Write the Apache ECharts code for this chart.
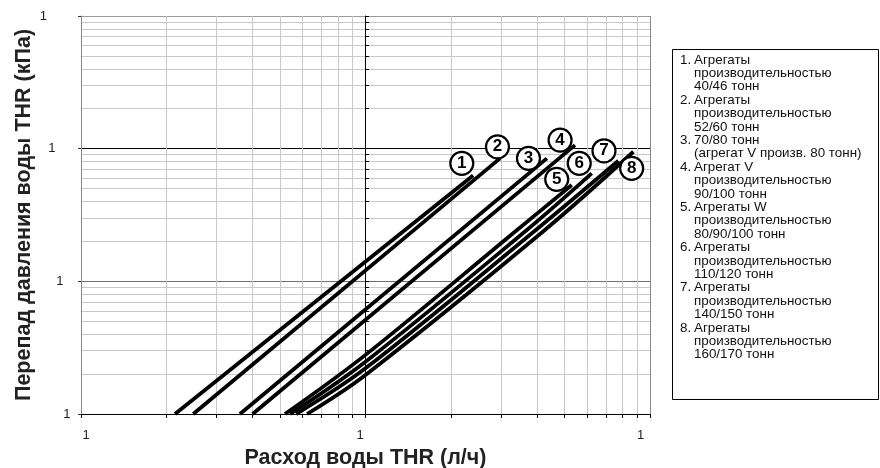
<!DOCTYPE html>
<html><head><meta charset="utf-8">
<script src="https://cdn.jsdelivr.net/npm/echarts@6/dist/echarts.min.js"></script>
<style>html,body{margin:0;padding:0;background:#fff}#c{width:880px;height:468px}</style>
</head><body><div id="c"></div><script>
// ---- data ----
const xTickValues = [1,2,3,4,5,6,7,8,9,10,20,30,40,50,60,70,80,90,100];
const yTickValues = [1,2,3,4,5,6,7,8,9,10,20,30,40,50,60,70,80,90,100,200,300,400,500,600,700,800,900,1000];
const xLabelValues = [1,10,100];
const yLabelValues = [1,10,100,1000];
const tickLabelText = '1';
const xTitle = 'Расход воды THR (л/ч)';
const yTitle = 'Перепад давления воды THR (кПа)';

const curve1 = [[2.14,1],[23.9,62.8]];
const curve2 = [[2.48,1],[29.7,84.5]];
const curve3 = [[3.62,1],[43.4,84.5]];
const curve4 = [[4.01,1],[54.5,106.4]];
const curve5 = [[5.21,1],[10,2.79],[34.1,24.4],[53.1,53.2]];
const curve6 = [[5.43,1],[10,2.48],[36.9,24.4],[62.4,65.2]];
const curve7 = [[5.70,1],[10,2.21],[39.7,24.4],[77.4,81.1]];
const curve8 = [[6.23,1],[10,1.97],[42.7,24.4],[87.4,94.8]];
const curves = [curve1,curve2,curve3,curve4,curve5,curve6,curve7,curve8];

const markerPos = [[21.8,77.5],[29.1,103.3],[37.4,84.5],[48.3,116.1],[47.0,58.7],[56.4,77.5],[68.9,96.4],[86.2,71.1]];
const markerText = ['1','2','3','4','5','6','7','8'];

const legendEntries = [
  ['1.', 'Агрегаты', 'производительностью', '40/46 тонн'],
  ['2.', 'Агрегаты', 'производительностью', '52/60 тонн'],
  ['3.', '70/80 тонн', '(агрегат V произв. 80 тонн)'],
  ['4.', 'Агрегат V', 'производительностью', '90/100 тонн'],
  ['5.', 'Агрегаты W', 'производительностью', '80/90/100 тонн'],
  ['6.', 'Агрегаты', 'производительностью', '110/120 тонн'],
  ['7.', 'Агрегаты', 'производительностью', '140/150 тонн'],
  ['8.', 'Агрегаты', 'производительностью', '160/170 тонн']
];

// ---- styling ----
const FONT = '"Liberation Sans", Arial, Helvetica, sans-serif';
const MINOR = '#c8c8c8';
const xSplitColors = xTickValues.map(v => v === 10 ? '#000' : ([1,100].includes(v) ? '#8a8a8a' : MINOR));
const ySplitColors = yTickValues.map(v => v === 100 ? '#000' : (v === 10 ? '#6e6e6e' : (v === 1000 ? '#9a9a9a' : (v === 1 ? '#000' : MINOR))));

const chart = echarts.init(document.getElementById('c'), null, {renderer: 'canvas'});

const lineSeries = curves.map((c, i) => ({
  type: 'line', name: 'curve' + (i + 1), data: c, xAxisIndex: 0, yAxisIndex: 0,
  showSymbol: false, smooth: c.length > 2 ? 0.35 : false,
  lineStyle: {color: '#000', width: 3.8}, z: 5, silent: true
}));

const LEG_FONT = '13.4px ' + FONT;
const legendGraphics = [{
  type: 'rect', shape: {x: 672.5, y: 49.5, width: 206, height: 350},
  style: {fill: '#fff', stroke: '#000', lineWidth: 1}, z: 1
}];
let row = 0;
legendEntries.forEach(e => {
  legendGraphics.push({type: 'text', x: 680, y: 60 + row * 13.4, z: 2,
    style: {text: e[0], font: LEG_FONT, fill: '#111', verticalAlign: 'middle', align: 'left'}});
  for (let k = 1; k < e.length; k++) {
    legendGraphics.push({type: 'text', x: 694, y: 60 + row * 13.4, z: 2,
      style: {text: e[k], font: LEG_FONT, fill: '#111', verticalAlign: 'middle', align: 'left'}});
    row++;
  }
});

const xRich = {
  a: {padding: [0, 0, 0, 10], fontSize: 13, fontFamily: FONT, color: '#222'},
  b: {padding: [0, 11, 0, 0], fontSize: 13, fontFamily: FONT, color: '#222'},
  c: {padding: [0, 19, 0, 0], fontSize: 13, fontFamily: FONT, color: '#222'}
};
const yRich = {
  a: {padding: [0, 0, 0, 0], fontSize: 13, fontFamily: FONT, color: '#222'},
  b: {padding: [0, 7, 0, 0], fontSize: 13, fontFamily: FONT, color: '#222'},
  c: {padding: [0, 15, 0, 0], fontSize: 13, fontFamily: FONT, color: '#222'},
  d: {padding: [0, 23.5, 0, 0], fontSize: 13, fontFamily: FONT, color: '#222'}
};
const keyOf = v => 'abcd'[Math.round(Math.log10(v))];

chart.setOption({
  animation: false,
  backgroundColor: '#fff',
  textStyle: {fontFamily: FONT},
  grid: [
    {left: 81, right: 230, top: 16, bottom: 54, show: false, containLabel: false, outerBoundsMode: 'none'},
    {left: 365, right: 230, top: 16, bottom: 54, show: false, containLabel: false, outerBoundsMode: 'none'}
  ],
  xAxis: [
    {type: 'log', logBase: 10, min: 1, max: 100, gridIndex: 0, position: 'bottom',
     name: xTitle, nameLocation: 'middle', nameGap: 33, nameMoveOverlap: false,
     nameTextStyle: {fontSize: 21.5, fontWeight: 'bold', color: '#222', fontFamily: FONT},
     axisLine: {show: true, lineStyle: {color: '#000', width: 1}},
     axisTick: {show: true, customValues: xTickValues, length: 4, inside: false, lineStyle: {color: '#000'}},
     axisLabel: {show: true, customValues: xLabelValues, margin: 15,
       formatter: v => '{' + keyOf(v) + '|' + tickLabelText + '}', rich: xRich},
     splitLine: {show: true, lineStyle: {color: xSplitColors, width: 1}},
     minorTick: {show: false}, minorSplitLine: {show: false}},
    {type: 'value', gridIndex: 1, show: false, min: 0, max: 1}
  ],
  yAxis: [
    {type: 'log', logBase: 10, min: 1, max: 1000, gridIndex: 0, position: 'left',
     axisLine: {show: false}, axisTick: {show: false, customValues: yTickValues},
     axisLabel: {show: false},
     splitLine: {show: true, lineStyle: {color: ySplitColors, width: 1}}},
    {type: 'log', logBase: 10, min: 1, max: 1000, gridIndex: 0, position: 'left',
     name: yTitle, nameLocation: 'middle', nameGap: 46, nameMoveOverlap: false,
     nameTextStyle: {fontSize: 21.5, fontWeight: 'bold', color: '#222', fontFamily: FONT},
     axisLine: {show: true, lineStyle: {color: '#8a8a8a', width: 1}},
     axisTick: {show: true, customValues: yLabelValues, length: 3, lineStyle: {color: '#333'}},
     axisLabel: {show: true, customValues: yLabelValues, margin: 10.5,
       formatter: v => '{' + keyOf(v) + '|' + tickLabelText + '}', rich: yRich},
     splitLine: {show: false}},
    {type: 'log', logBase: 10, min: 1, max: 1000, gridIndex: 1, position: 'left',
     axisLine: {show: true, lineStyle: {color: '#000', width: 1}},
     axisTick: {show: true, inside: true, length: 4, customValues: yTickValues, lineStyle: {color: '#000'}},
     axisLabel: {show: false}, splitLine: {show: false}}
  ],
  graphic: legendGraphics,
  series: lineSeries.concat([{
    type: 'scatter', xAxisIndex: 0, yAxisIndex: 0, z: 10, silent: true,
    data: markerPos, symbol: 'circle', symbolSize: 23,
    itemStyle: {color: '#fff', borderColor: '#000', borderWidth: 2.2, opacity: 1},
    label: {show: true, position: 'inside', formatter: p => markerText[p.dataIndex],
      fontSize: 17, fontWeight: 'bold', color: '#000', fontFamily: FONT}
  }])
});
</script></body></html>
